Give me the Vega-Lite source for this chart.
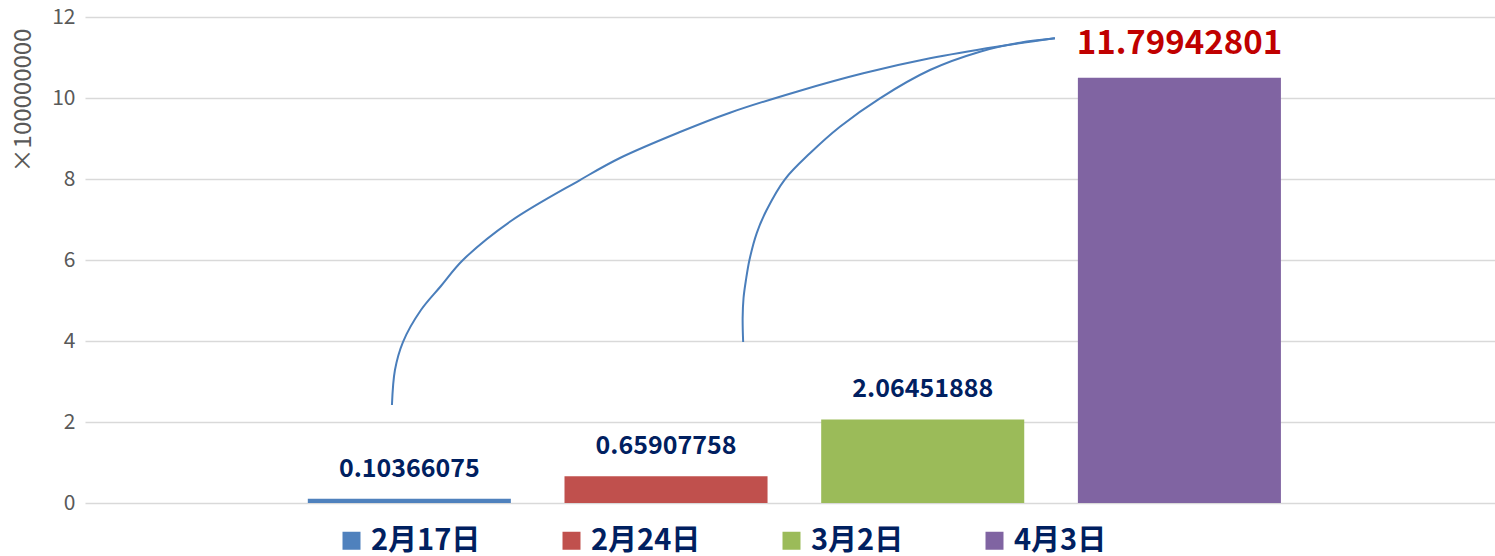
{
  "$schema": "https://vega.github.io/schema/vega-lite/v6.json",
  "autosize": {"type": "none"},
  "width": 1410,
  "height": 486,
  "padding": {"left": 85, "top": 17, "right": 0, "bottom": 53},
  "background": "white",
  "config": {
    "view": {"stroke": null},
    "font": "Noto Sans CJK SC"
  },
  "datasets": {
    "bars": [
      {"date": "2月17日", "value": 0.10366075, "label": "0.10366075"},
      {"date": "2月24日", "value": 0.65907758, "label": "0.65907758"},
      {"date": "3月2日", "value": 2.06451888, "label": "2.06451888"},
      {"date": "4月3日", "value": 10.5, "label": "11.79942801"}
    ],
    "curves": [
      {"curve": "a", "i": 0, "cx": -0.0682, "cy": 2.42},
      {"curve": "a", "i": 1, "cx": -0.0565, "cy": 3.284},
      {"curve": "a", "i": 2, "cx": -0.0253, "cy": 3.975},
      {"curve": "a", "i": 3, "cx": 0.0448, "cy": 4.765},
      {"curve": "a", "i": 4, "cx": 0.1227, "cy": 5.358},
      {"curve": "a", "i": 5, "cx": 0.2084, "cy": 6.0},
      {"curve": "a", "i": 6, "cx": 0.3954, "cy": 6.963},
      {"curve": "a", "i": 7, "cx": 0.6642, "cy": 7.975},
      {"curve": "a", "i": 8, "cx": 0.82, "cy": 8.519},
      {"curve": "a", "i": 9, "cx": 1.0538, "cy": 9.16},
      {"curve": "a", "i": 10, "cx": 1.2486, "cy": 9.637},
      {"curve": "a", "i": 11, "cx": 1.5084, "cy": 10.156},
      {"curve": "a", "i": 12, "cx": 1.7678, "cy": 10.61},
      {"curve": "a", "i": 13, "cx": 2.0277, "cy": 10.98},
      {"curve": "a", "i": 14, "cx": 2.2875, "cy": 11.267},
      {"curve": "a", "i": 15, "cx": 2.5146, "cy": 11.474},
      {"curve": "b", "i": 0, "cx": 1.3, "cy": 3.975},
      {"curve": "b", "i": 1, "cx": 1.298, "cy": 4.568},
      {"curve": "b", "i": 2, "cx": 1.3015, "cy": 5.062},
      {"curve": "b", "i": 3, "cx": 1.3109, "cy": 5.506},
      {"curve": "b", "i": 4, "cx": 1.3245, "cy": 6.0},
      {"curve": "b", "i": 5, "cx": 1.3526, "cy": 6.659},
      {"curve": "b", "i": 6, "cx": 1.3915, "cy": 7.235},
      {"curve": "b", "i": 7, "cx": 1.4628, "cy": 7.993},
      {"curve": "b", "i": 8, "cx": 1.5602, "cy": 8.635},
      {"curve": "b", "i": 9, "cx": 1.677, "cy": 9.291},
      {"curve": "b", "i": 10, "cx": 1.8329, "cy": 9.993},
      {"curve": "b", "i": 11, "cx": 2.0277, "cy": 10.691},
      {"curve": "b", "i": 12, "cx": 2.2225, "cy": 11.143},
      {"curve": "b", "i": 13, "cx": 2.3783, "cy": 11.365},
      {"curve": "b", "i": 14, "cx": 2.5146, "cy": 11.474}
    ]
  },
  "layer": [
    {
      "data": {"name": "bars"},
      "encoding": {
        "x": {
          "field": "date",
          "type": "nominal",
          "sort": null,
          "axis": null,
          "scale": {"paddingInner": 0.209, "paddingOuter": 0.851, "align": 0.51}
        },
        "y": {
          "field": "value",
          "type": "quantitative",
          "scale": {"domain": [0, 12], "nice": false},
          "axis": {
            "title": "×100000000",
            "values": [0, 2, 4, 6, 8, 10, 12],
            "grid": true,
            "gridColor": "#d9d9d9",
            "gridWidth": 1.5,
            "domain": false,
            "ticks": false,
            "labelFont": "Noto Sans CJK SC",
            "labelFontSize": 21,
            "labelColor": "#595959",
            "labelPadding": 10,
            "titleFont": "Noto Sans CJK SC",
            "titleFontSize": 24,
            "titleFontWeight": "normal",
            "titleColor": "#595959",
            "titleAngle": -90,
            "titleAlign": "center",
            "titleBaseline": "middle",
            "titleX": -62,
            "titleY": 83
          }
        }
      },
      "layer": [
        {
          "mark": {"type": "bar"},
          "encoding": {
            "color": {
              "field": "date",
              "type": "nominal",
              "sort": null,
              "scale": {
                "domain": ["2月17日", "2月24日", "3月2日", "4月3日"],
                "range": ["#4f81bd", "#c0504d", "#9bbb59", "#8064a2"]
              },
              "legend": {
                "orient": "none",
                "direction": "horizontal",
                "legendX": 252,
                "legendY": 509,
                "title": null,
                "symbolType": "square",
                "symbolSize": 324,
                "symbolStrokeWidth": 0,
                "labelFont": "Noto Sans CJK SC",
                "labelFontSize": 29,
                "labelFontWeight": "bold",
                "labelColor": "#002060",
                "labelOffset": 5,
                "columnPadding": 76
              }
            }
          }
        },
        {
          "transform": [{"filter": "datum.date !== '4月3日'"}],
          "mark": {
            "type": "text",
            "baseline": "middle",
            "dy": -30,
            "font": "Noto Sans CJK SC",
            "fontSize": 25,
            "fontWeight": "bold",
            "color": "#002060"
          },
          "encoding": {"text": {"field": "label"}}
        },
        {
          "transform": [{"filter": "datum.date === '4月3日'"}],
          "mark": {
            "type": "text",
            "baseline": "middle",
            "dy": -34,
            "font": "Noto Sans CJK SC",
            "fontSize": 33,
            "fontWeight": "bold",
            "color": "#c00000"
          },
          "encoding": {"text": {"field": "label"}}
        }
      ]
    },
    {
      "data": {"name": "curves"},
      "mark": {"type": "line", "interpolate": "catmull-rom", "color": "#4a7ebb", "strokeWidth": 2},
      "encoding": {
        "x": {
          "field": "cx",
          "type": "quantitative",
          "scale": {"domain": [-1.264, 4.229], "nice": false, "zero": false},
          "axis": null
        },
        "y": {
          "field": "cy",
          "type": "quantitative",
          "axis": {"title": "×100000000"}
        },
        "detail": {"field": "curve"},
        "order": {"field": "i", "type": "quantitative"}
      }
    }
  ],
  "resolve": {"scale": {"x": "independent"}}
}
